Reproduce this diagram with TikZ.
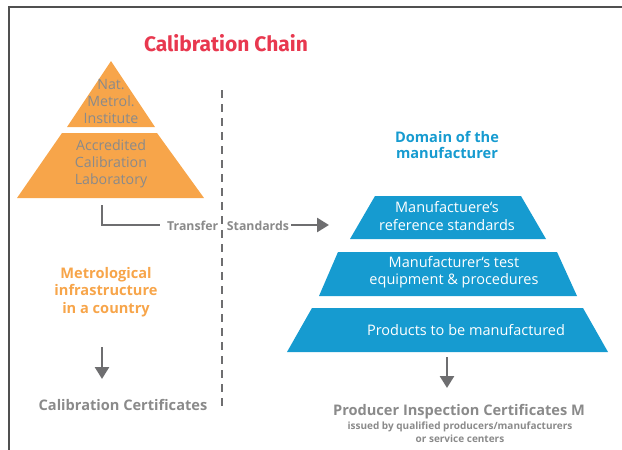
\documentclass[tikz,border=0pt]{standalone}
\usepackage{fontspec}
\setmainfont{Open Sans}
\newfontfamily\titlefont{Fira Sans}
\usetikzlibrary{arrows.meta}
\definecolor{titlered}{HTML}{E8384F}
\definecolor{orng}{HTML}{F7A54A}
\definecolor{blu}{HTML}{169BD0}
\definecolor{txtgray}{HTML}{8A8A8A}
\definecolor{arrgray}{HTML}{6E6E70}
\definecolor{framegray}{HTML}{505050}
\tikzset{
  orangeshape/.style={fill=orng, draw=none},
  blueshape/.style={fill=blu, draw=none},
  graytxt/.style={text=txtgray, font=\fontsize{14.2}{17}\selectfont, align=center, inner sep=0pt},
  whitetxt/.style={text=white, font=\fontsize{14.5}{17.5}\selectfont, align=center, inner sep=0pt},
  boldgray/.style={text=txtgray, font=\bfseries\fontsize{14.6}{17}\selectfont, align=center, inner sep=0pt},
  bigarrow/.style={draw=arrgray, line width=2.6pt, -{Triangle[length=12pt,width=14pt]}},
  conn/.style={draw=arrgray, line width=2.6pt}
}
\begin{document}
\begin{tikzpicture}[x=1pt,y=-1pt]
\useasboundingbox (0,0) rectangle (622,450);
% frame
\draw[framegray, line width=1.6pt] (9,450) -- (9,7) -- (622,7);
% title
\node[text=titlered, font=\titlefont\bfseries\fontsize{21}{24}\selectfont, inner sep=0pt] (title) at (226,43) {Calibration Chain};
% left pyramid
\fill[orangeshape] (111,61) -- (155,127) -- (67,127) -- cycle;
\fill[orangeshape] (62,133) -- (157,133) -- (204,198) -- (17,198) -- cycle;
\node[graytxt] (nmi) at (111,101) {Nat.\\Metrol.\\Institute};
\node[graytxt] (acl) at (111,164) {Accredited\\Calibration\\Laboratory};
% dashed separator
\draw[arrgray, line width=2pt, dash pattern=on 8pt off 6pt] (222,90) -- (222,410);
% transfer
\coordinate (tstart) at (102,205);
\node[text=txtgray, font=\bfseries\fontsize{12.3}{14}\selectfont, inner sep=0pt, anchor=west] (ts) at (167,226) {Transfer\hspace{0.7em}Standards};
\draw[conn] (tstart) -- (102,225) -- (160,225);
\coordinate (tend) at (329,225);
\draw[bigarrow] ([xshift=2pt]ts.east |- tend) -- (tend);
% right header
\node[text=blu, font=\bfseries\fontsize{14.6}{16.5}\selectfont, align=center, inner sep=0pt] (dom) at (447,145) {Domain of the\\manufacturer};
% right pyramid
\fill[blueshape] (375,196) -- (521,196) -- (546,239) -- (350,239) -- cycle;
\fill[blueshape] (338,252) -- (557,252) -- (577,296) -- (319,296) -- cycle;
\fill[blueshape] (312,308) -- (583,308) -- (608,352) -- (287,352) -- cycle;
\node[whitetxt] (mrs) at (447,216) {Manufactuere‘s\\reference standards};
\node[whitetxt] (mte) at (454,272) {Manufacturer‘s test\\equipment \& procedures};
\node[whitetxt] (ptb) at (466,330) {Products to be manufactured};
% right arrow + certificates
\coordinate (ra1) at (447,357);
\coordinate (ra2) at (447,388);
\draw[bigarrow] (ra1) -- (ra2);
\node[boldgray] (pic) at (459,412) {Producer Inspection Certificates M};
\node[text=txtgray, font=\bfseries\fontsize{10}{12.5}\selectfont, align=center, inner sep=0pt, anchor=north] (iss) at (460,422) {issued by qualified producers/manufacturers\\or service centers};
% left bottom
\node[text=orng, font=\bfseries\fontsize{14.6}{17.5}\selectfont, align=center, inner sep=0pt] (met) at (106,292) {Metrological\\infrastructure\\in a country};
\coordinate (la1) at (102,347);
\coordinate (la2) at (102,379);
\draw[bigarrow] (la1) -- (la2);
\node[boldgray] (cc) at (123,405) {Calibration Certificates};
\end{tikzpicture}
\end{document}
